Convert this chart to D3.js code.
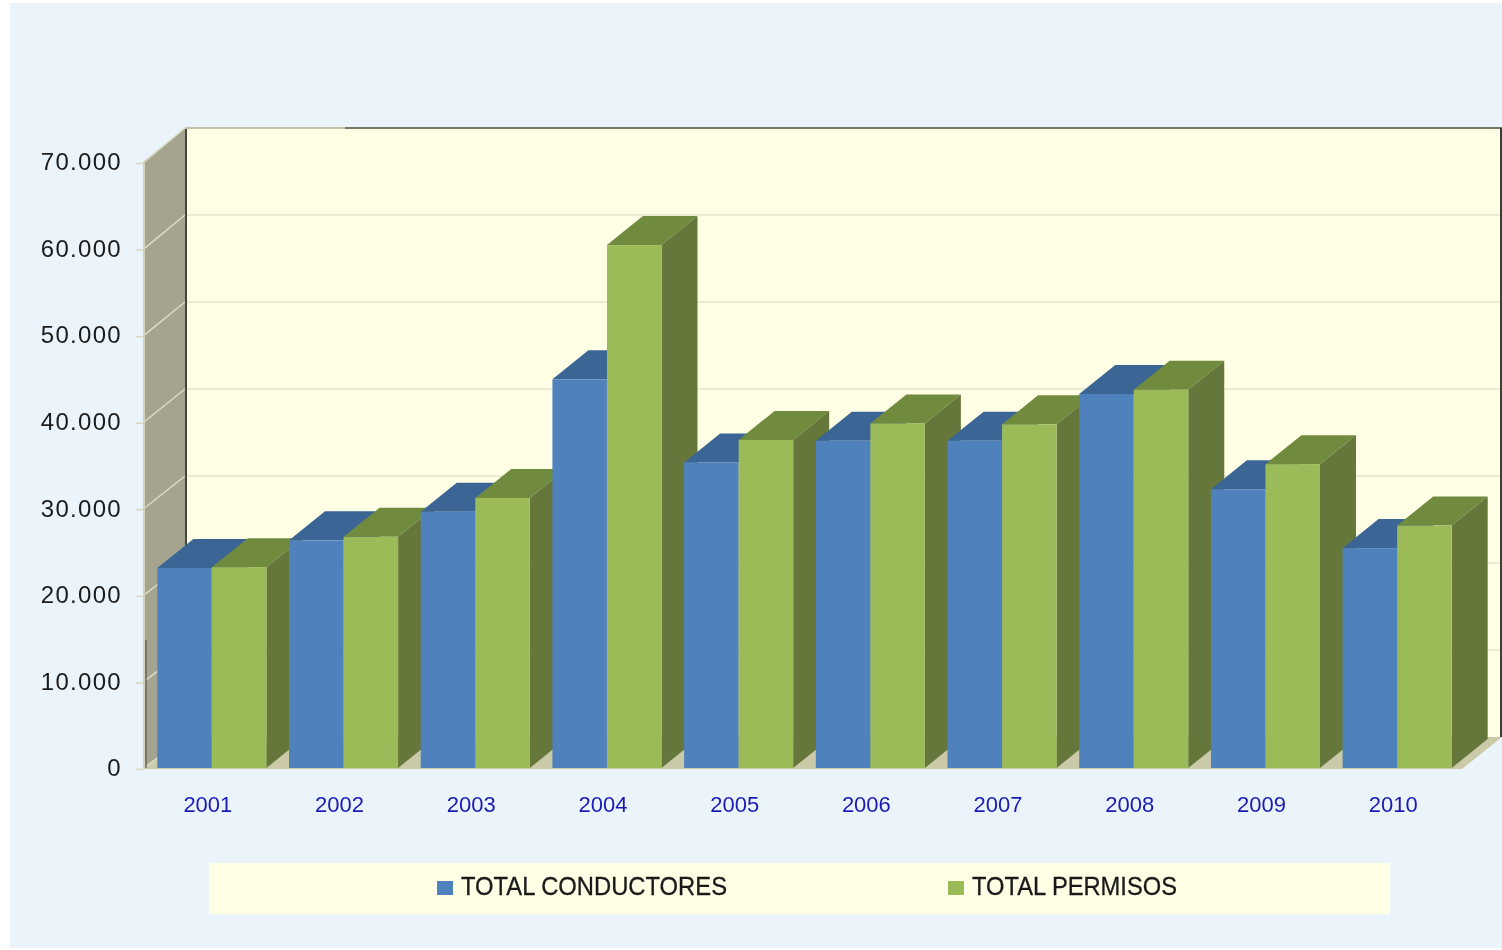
<!DOCTYPE html>
<html>
<head>
<meta charset="utf-8">
<script src="https://cdnjs.cloudflare.com/ajax/libs/d3/7.8.5/d3.min.js"></script>
<style>
  html, body { margin: 0; padding: 0; background: #fff; overflow: hidden; }
  text { font-family: "Liberation Sans", Arial, sans-serif; }
</style>
</head>
<body>
<script>
var years = ["2001", "2002", "2003", "2004", "2005", "2006", "2007", "2008", "2009", "2010"];
var conductores = [23100, 26300, 29600, 44900, 35300, 37800, 37800, 43200, 32200, 25400];
var permisos = [23200, 26700, 31200, 60400, 37900, 39800, 39700, 43700, 35100, 28000];
var yTicks = [0, 10000, 20000, 30000, 40000, 50000, 60000, 70000];
var seriesNames = ["TOTAL CONDUCTORES", "TOTAL PERMISOS"];

var w = 1502;
var h = 950;

var svg = d3.select("body").append("svg")
    .attr("width", w)
    .attr("height", h)
    .style("display", "block")
    .style("filter", "blur(0.5px)"); // the reference is a soft, upscaled screenshot

// panel background
svg.append("rect")
    .attr("x", 10).attr("y", 3)
    .attr("width", w - 10).attr("height", 945)
    .attr("fill", "#ebf4fb");

var y = d3.scaleLinear().domain([0, 70000]).range([768, 162]);
// the back wall sits up and to the right of the front plane
var yBack = d3.scaleLinear().domain([0, 70000]).range([737, 128]);
var x = d3.scaleBand().domain(years)
    .range([146, 1463])
    .paddingInner(0.172)
    .paddingOuter(0.086);
var x1 = d3.scaleBand().domain([0, 1]).range([0, x.bandwidth()]);

var wallFront = 143, wallBack = 185, wallRight = 1500, floorRight = 1462;
var barDx = 36, barDy = -29;

function pts(a) {
  return a.map(function(p) { return p.join(","); }).join(" ");
}

// back wall
svg.append("rect")
    .attr("x", wallBack).attr("y", yBack(70000))
    .attr("width", wallRight - wallBack).attr("height", yBack(0) - yBack(70000))
    .attr("fill", "#ffffe6");

// side wall
svg.append("polygon")
    .attr("points", pts([[wallFront, y(70000)], [wallBack, yBack(70000)], [wallBack, yBack(0)], [wallFront, y(0)]]))
    .attr("fill", "#a4a48f");

// floor
svg.append("polygon")
    .attr("points", pts([[wallFront, y(0) + 1], [wallBack, yBack(0)], [w, yBack(0)], [floorRight, y(0) + 1]]))
    .attr("fill", "#cbcaa8");

// grid lines, back wall and side wall
svg.append("g").selectAll("line.back")
    .data(yTicks.slice(1))
    .enter().append("line")
    .attr("class", "back")
    .attr("x1", wallBack).attr("x2", wallRight)
    .attr("y1", function(d) { return yBack(d); })
    .attr("y2", function(d) { return yBack(d); })
    .attr("stroke", "#d8d8bd").attr("stroke-width", 1.2);

svg.append("g").selectAll("line.side")
    .data(yTicks)
    .enter().append("line")
    .attr("class", "side")
    .attr("x1", wallFront).attr("x2", wallBack)
    .attr("y1", function(d) { return y(d) + 1; })
    .attr("y2", function(d) { return yBack(d); })
    .attr("stroke", "#dcdcc4").attr("stroke-width", 1.5);

// wall edges
svg.append("line")
    .attr("x1", wallBack + 1).attr("x2", wallBack + 1)
    .attr("y1", yBack(70000)).attr("y2", yBack(0))
    .attr("stroke", "#45463c").attr("stroke-width", 2);
svg.append("line")
    .attr("x1", 345).attr("x2", w)
    .attr("y1", yBack(70000)).attr("y2", yBack(70000))
    .attr("stroke", "#77786a").attr("stroke-width", 2);
svg.append("line")
    .attr("x1", wallBack).attr("x2", 345)
    .attr("y1", yBack(70000)).attr("y2", yBack(70000))
    .attr("stroke", "#c4c4aa").attr("stroke-width", 2);
svg.append("line")
    .attr("x1", wallRight + 1).attr("x2", wallRight + 1)
    .attr("y1", yBack(70000)).attr("y2", yBack(0))
    .attr("stroke", "#3c3c34").attr("stroke-width", 2);
svg.append("line")
    .attr("x1", wallFront + 1).attr("x2", wallFront + 1)
    .attr("y1", y(70000)).attr("y2", y(0))
    .attr("stroke", "#d3d3bb").attr("stroke-width", 2);
svg.append("line")
    .attr("x1", wallFront + 3).attr("x2", wallFront + 3)
    .attr("y1", 640).attr("y2", y(0))
    .attr("stroke", "#6a6a5e").attr("stroke-width", 1.5);

// bars: one row per year per series, left to right so later bars overlap
var barData = [];
years.forEach(function(yr, i) {
  barData.push({ year: yr, s: 0, v: conductores[i], front: "#4f81bd", top: "#3b6595", side: "#3b6595" });
  barData.push({ year: yr, s: 1, v: permisos[i], front: "#9bbb59", top: "#708a3e", side: "#65773a" });
});

var bars = svg.append("g").selectAll("g.bar")
    .data(barData)
    .enter().append("g")
    .attr("class", "bar");

bars.append("polygon")
    .attr("points", function(d) {
      var l = x(d.year) + x1(d.s), r = l + x1.bandwidth(), t = y(d.v);
      return pts([[l, t], [l + barDx, t + barDy], [r + barDx, t + barDy], [r, t]]);
    })
    .attr("fill", function(d) { return d.top; });

bars.append("polygon")
    .attr("points", function(d) {
      var r = x(d.year) + x1(d.s) + x1.bandwidth(), t = y(d.v), b = y(0);
      return pts([[r, t], [r + barDx, t + barDy], [r + barDx, b + barDy], [r, b]]);
    })
    .attr("fill", function(d) { return d.side; });

bars.append("rect")
    .attr("x", function(d) { return x(d.year) + x1(d.s); })
    .attr("y", function(d) { return y(d.v); })
    .attr("width", x1.bandwidth())
    .attr("height", function(d) { return y(0) - y(d.v); })
    .attr("fill", function(d) { return d.front; });

// axes
var es = d3.formatLocale({ decimal: ",", thousands: ".", grouping: [3], currency: ["", ""] });

var yAxis = svg.append("g")
    .attr("transform", "translate(" + wallFront + ",1)")
    .call(d3.axisLeft(y).tickValues(yTicks).tickFormat(es.format(",")).tickSize(7).tickPadding(14));
yAxis.select(".domain").remove();
yAxis.selectAll("line").attr("stroke", "#d8d8bd").attr("stroke-width", 1.5);
yAxis.selectAll("text")
    .attr("fill", "#1c1c1c")
    .attr("dy", "0.28em")
    .style("font-size", "24px")
    .style("letter-spacing", "1.3px");

var xAxis = svg.append("g")
    .attr("transform", "translate(-4,768)")
    .call(d3.axisBottom(x).tickSize(0).tickPadding(28));
xAxis.select(".domain").remove();
xAxis.selectAll("text")
    .attr("fill", "#1a1ab4")
    .style("font-size", "22px");

// legend
svg.append("rect")
    .attr("x", 209).attr("y", 863)
    .attr("width", 1181).attr("height", 51)
    .attr("fill", "#ffffe6");

var legendX = [437, 948];
var legendLen = [266, 205];
var legendFill = ["#4f81bd", "#9bbb59"];

var legend = svg.append("g").selectAll("g")
    .data(seriesNames)
    .enter().append("g")
    .attr("transform", function(d, i) { return "translate(" + legendX[i] + ",0)"; });

legend.append("rect")
    .attr("y", 881).attr("width", 16).attr("height", 14)
    .attr("fill", function(d, i) { return legendFill[i]; });

legend.append("text")
    .attr("x", 24).attr("y", 895)
    .attr("textLength", function(d, i) { return legendLen[i]; })
    .attr("lengthAdjust", "spacingAndGlyphs")
    .attr("fill", "#1a1a1a")
    .attr("stroke", "#1a1a1a")
    .attr("stroke-width", 0.3)
    .style("font-size", "25px")
    .text(function(d) { return d; });
</script>
</body>
</html>
